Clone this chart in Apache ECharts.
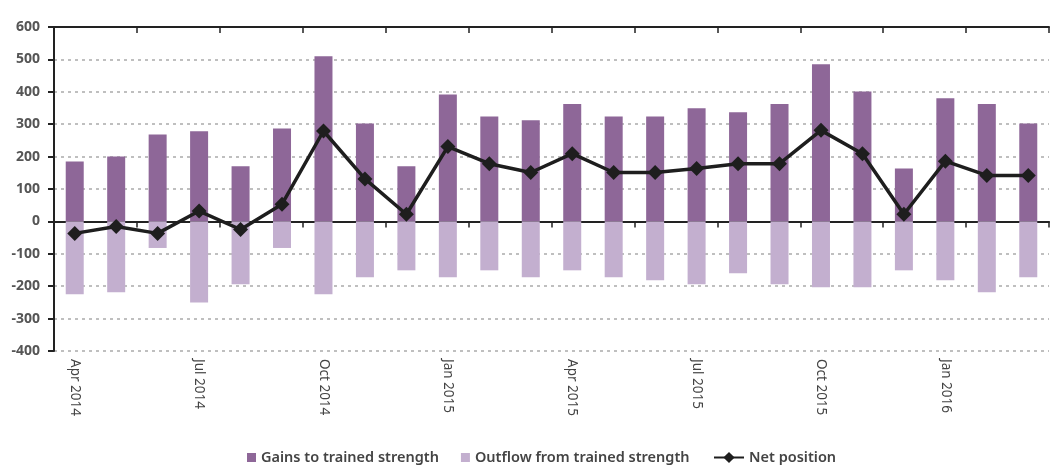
<!DOCTYPE html>
<html>
<head>
<meta charset="utf-8">
<script src="https://cdn.jsdelivr.net/npm/echarts@6/dist/echarts.min.js"></script>
<style>
  html, body { margin: 0; padding: 0; background: #fff; }
  #chart { width: 1052px; height: 465px; }
</style>
</head>
<body>
<div id="chart"></div>
<script>
// months Apr 2014 - Mar 2016
var months = ['Apr 2014', 'May 2014', 'Jun 2014', 'Jul 2014', 'Aug 2014', 'Sep 2014',
  'Oct 2014', 'Nov 2014', 'Dec 2014', 'Jan 2015', 'Feb 2015', 'Mar 2015',
  'Apr 2015', 'May 2015', 'Jun 2015', 'Jul 2015', 'Aug 2015', 'Sep 2015',
  'Oct 2015', 'Nov 2015', 'Dec 2015', 'Jan 2016', 'Feb 2016', 'Mar 2016'];
// gains to trained strength
var gains = [185, 200, 268, 278, 170, 287, 510, 302, 170, 392, 324, 312,
  362, 324, 324, 349, 337, 362, 485, 401, 163, 380, 362, 302];
// outflow from trained strength
var outflow = [-225, -219, -82, -250, -194, -82, -225, -172, -151, -172, -151, -172,
  -151, -172, -182, -194, -160, -194, -203, -203, -151, -182, -219, -172];
// net position
var net = [-37, -16, -37, 32, -25, 53, 279, 131, 22, 231, 178, 151,
  209, 151, 151, 163, 178, 178, 281, 209, 22, 186, 142, 142];

var font = 'Noto Sans';
var legendText = { fontSize: 14.5, color: '#444', fontWeight: 600, fontFamily: font };
var myChart = echarts.init(document.getElementById('chart'));
var option = {
  animation: false,
  textStyle: { fontFamily: font },
  grid: { left: 54, right: 3, top: 27, bottom: 114 },
  legend: [{
    top: 445,
    left: 242,
    itemWidth: 9,
    itemHeight: 9,
    itemGap: 22,
    textStyle: legendText,
    data: [
      { name: 'Gains to trained strength', icon: 'rect' },
      { name: 'Outflow from trained strength', icon: 'rect' }
    ]
  }, {
    top: 445,
    left: 708,
    itemWidth: 30,
    itemHeight: 14,
    textStyle: legendText,
    data: [{ name: 'Net position' }]
  }],
  xAxis: [{
    type: 'category',
    data: months,
    axisLine: { onZero: true, lineStyle: { color: '#222', width: 2 } },
    axisTick: { show: true, length: 6, lineStyle: { color: '#222', width: 1.5 } },
    axisLabel: { show: false },
    splitLine: { show: false }
  }, {
    type: 'category',
    data: months,
    axisLine: { onZero: true, lineStyle: { color: '#222', width: 2 } },
    axisTick: { show: true, inside: true, length: 6, lineStyle: { color: '#222', width: 1.5 } },
    axisLabel: { show: false },
    splitLine: { show: false }
  }, {
    type: 'category',
    data: months,
    position: 'bottom',
    axisLine: { show: false, onZero: false },
    axisTick: { show: false },
    axisLabel: {
      interval: 2,
      rotate: -90,
      margin: 8,
      fontSize: 13.5,
      color: '#444',
      fontFamily: font
    }
  }],
  yAxis: {
    type: 'value',
    min: -400,
    max: 600,
    interval: 100,
    axisLine: { show: true, lineStyle: { color: '#222', width: 2 } },
    axisTick: { show: true, length: 6, lineStyle: { color: '#222', width: 2 } },
    axisLabel: { fontSize: 14, fontWeight: 'bold', color: '#555', margin: 14, fontFamily: font },
    splitLine: { lineStyle: { color: '#aaa', type: [3, 4], width: 1.5 } }
  },
  series: [{
    name: 'Gains to trained strength',
    type: 'bar',
    stack: 'flow',
    barWidth: 18,
    data: gains,
    itemStyle: { color: '#8e6798' }
  }, {
    name: 'Outflow from trained strength',
    type: 'bar',
    stack: 'flow',
    barWidth: 18,
    data: outflow,
    itemStyle: { color: '#c3afcf' }
  }, {
    name: 'Net position',
    type: 'line',
    data: net,
    symbol: 'diamond',
    symbolSize: 15,
    lineStyle: { color: '#1e1e1e', width: 3.5 },
    itemStyle: { color: '#1e1e1e' },
    z: 5
  }]
};
myChart.setOption(option);
</script>
</body>
</html>
